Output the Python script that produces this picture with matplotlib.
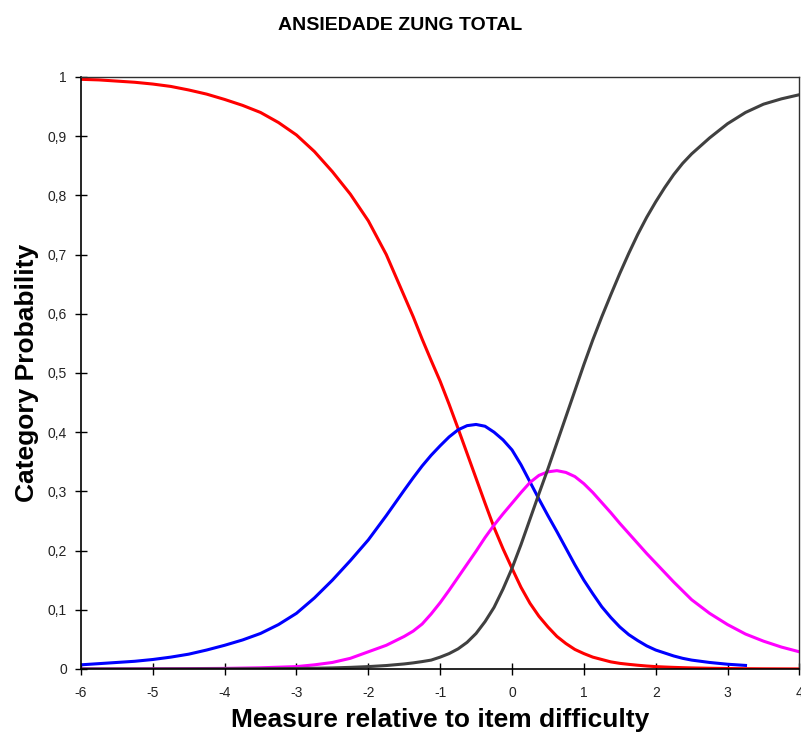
import matplotlib
matplotlib.use('Agg')
import matplotlib.pyplot as plt
import numpy as np

plt.rcParams['font.family'] = ['Liberation Sans', 'DejaVu Sans']
plt.rcParams['axes.unicode_minus'] = False

# measure relative to item difficulty (finer steps where the curves bend)
x = [-6, -5.75, -5.5, -5.25, -5, -4.75, -4.5, -4.25, -4, -3.75, -3.5, -3.25,
     -3, -2.75, -2.5, -2.25, -2, -1.75, -1.5,
     -1.375, -1.25, -1.125, -1, -0.875, -0.75, -0.625, -0.5, -0.375, -0.25,
     -0.125, 0, 0.125, 0.25, 0.375, 0.5, 0.625, 0.75, 0.875, 1, 1.125, 1.25,
     1.375, 1.5, 1.625, 1.75, 1.875, 2, 2.125, 2.25, 2.375, 2.5,
     2.75, 3, 3.25, 3.5, 3.75, 4]

# category probability curves
cat_red = [0.996, 0.995, 0.993, 0.991, 0.988, 0.984, 0.978, 0.971, 0.962, 0.952,
           0.940, 0.923, 0.902, 0.874, 0.840, 0.802, 0.757, 0.700, 0.630,
           0.595, 0.557, 0.521, 0.486, 0.447, 0.406, 0.364, 0.322, 0.280, 0.239,
           0.203, 0.170, 0.138, 0.111, 0.089, 0.071, 0.055, 0.043, 0.033, 0.026,
           0.020, 0.016, 0.012, 0.0095, 0.0078, 0.0063, 0.005, 0.004, 0.0033,
           0.0027, 0.0022, 0.0018,
           0.0012, 0.0008, 0.0005, 0.0003, 0.0002, 0.0001]
cat_blue = [0.007, 0.009, 0.011, 0.013, 0.016, 0.020, 0.025, 0.032, 0.040, 0.049,
            0.060, 0.075, 0.094, 0.120, 0.150, 0.183, 0.218, 0.259, 0.302,
            0.323, 0.343, 0.361, 0.377, 0.392, 0.404, 0.411, 0.413, 0.410, 0.400,
            0.387, 0.370, 0.345, 0.316, 0.287, 0.259, 0.232, 0.204, 0.176, 0.150,
            0.127, 0.105, 0.087, 0.071, 0.058, 0.048, 0.039, 0.032, 0.027, 0.022,
            0.018, 0.015,
            0.011, 0.008, 0.006, np.nan, np.nan, np.nan]
cat_magenta = [0.0001, 0.0001, 0.0002, 0.0002, 0.0003, 0.0004, 0.0006, 0.0008,
               0.001, 0.0015, 0.002, 0.003, 0.004, 0.007, 0.011, 0.018, 0.029,
               0.040, 0.055,
               0.064, 0.076, 0.093, 0.112, 0.133, 0.155, 0.177, 0.199, 0.222,
               0.243, 0.262, 0.280, 0.298, 0.315, 0.327, 0.333, 0.335, 0.332,
               0.325, 0.313, 0.298, 0.281, 0.264, 0.246, 0.229, 0.212, 0.195,
               0.179, 0.163, 0.147, 0.132, 0.117,
               0.094, 0.075, 0.059, 0.047, 0.037, 0.029]
cat_gray = [0, 0, 0, 0, 0, 0.0001, 0.0001, 0.0002, 0.0002, 0.0003, 0.0004,
            0.0006, 0.0008, 0.0012, 0.0018, 0.0027, 0.004, 0.0058, 0.0085,
            0.0103, 0.0125, 0.015, 0.020, 0.026, 0.034, 0.045, 0.060, 0.080,
            0.104, 0.135, 0.170, 0.210, 0.253, 0.296, 0.338, 0.382, 0.426, 0.470,
            0.514, 0.556, 0.595, 0.632, 0.668, 0.702, 0.734, 0.763, 0.789, 0.813,
            0.835, 0.854, 0.870,
            0.897, 0.921, 0.940, 0.954, 0.963, 0.970]

x_ticks = [-6, -5, -4, -3, -2, -1, 0, 1, 2, 3, 4]
y_ticks = [0, 0.1, 0.2, 0.3, 0.4, 0.5, 0.6, 0.7, 0.8, 0.9, 1]
y_labels = ['0', '0,1', '0,2', '0,3', '0,4', '0,5', '0,6', '0,7', '0,8', '0,9', '1']

fig = plt.figure(figsize=(8.01, 7.37), dpi=100)
ax = fig.add_axes([0.101, 0.0923, 0.897, 0.8033])

ax.plot(x, cat_red, color='#ff0000', lw=2.2)
ax.plot(x, cat_blue, color='#0000ff', lw=2.2)
ax.plot(x, cat_magenta, color='#ff00ff', lw=2.2)
ax.plot(x, cat_gray, color='#404040', lw=2.2)

ax.set_xlim(-6, 4)
ax.set_ylim(0, 1)
ax.set_xticks(x_ticks)
ax.set_yticks(y_ticks)
ax.set_yticklabels(y_labels)
ax.tick_params(direction='inout', length=8, width=1, labelsize=10,
               labelcolor='#222222')
ax.tick_params(axis='y', pad=6)
ax.tick_params(axis='x', pad=8)

for side in ['left', 'bottom']:
    ax.spines[side].set_color('black')
    ax.spines[side].set_linewidth(1.2)
for side in ['top', 'right']:
    ax.spines[side].set_color('#303030')
    ax.spines[side].set_linewidth(1.0)

ax.set_xlabel('Measure relative to item difficulty', fontsize=19,
              fontweight='bold', labelpad=6)
ax.set_ylabel('Category Probability', fontsize=19, fontweight='bold', labelpad=6)
fig.text(0.5, 0.966, 'ANSIEDADE ZUNG TOTAL', ha='center', va='center',
         fontsize=14, fontweight='bold')

fig.savefig('out.png', dpi=100)
